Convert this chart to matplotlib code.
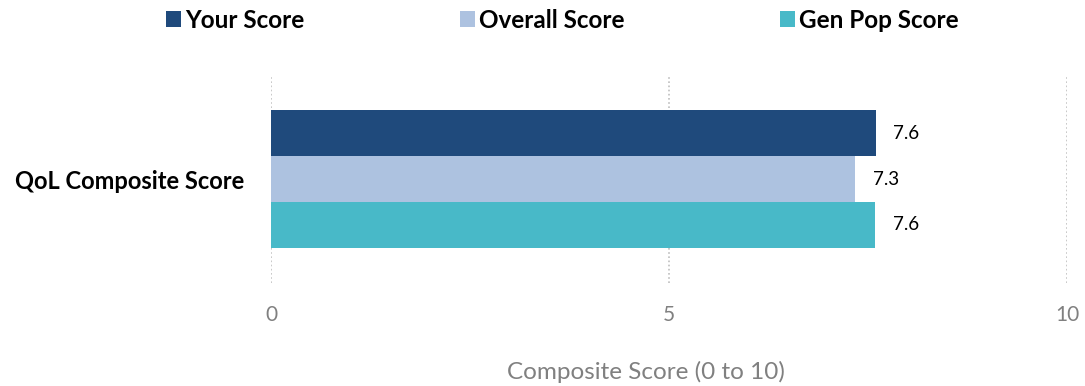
import matplotlib
matplotlib.use("Agg")
import matplotlib.pyplot as plt
from matplotlib.patches import Patch

plt.rcParams["font.family"] = ["Lato", "DejaVu Sans"]

# ---------------------------------------------------------------------------
# Data
# ---------------------------------------------------------------------------
category = "QoL Composite Score"
series_names = ["Your Score", "Overall Score", "Gen Pop Score"]
series_values = [7.6, 7.34, 7.59]
series_colors = ["#1F4A7C", "#ADC2E0", "#48B9C8"]
x_ticks = [0, 5, 10]

# ---------------------------------------------------------------------------
# Plot
# ---------------------------------------------------------------------------
fig = plt.figure(figsize=(10.85, 3.86), dpi=100)
ax = fig.add_axes([0.2498, 0.2668, 0.7336, 0.5389])

# one bar per series, stacked top to bottom around the category position
offsets = [1, 0, -1]
for name, val, col, off in zip(series_names, series_values, series_colors, offsets):
    ax.barh(off, val, height=1.0, color=col, label=name, zorder=3)
    ax.text(val + 0.22, off, f"{val:.1f}", va="center", ha="left",
            fontsize=13.5, color="#000000", zorder=4)

ax.set_xlim(0, 10)
ax.set_ylim(-2.27, 2.27)
ax.set_xticks(x_ticks)
ax.set_xticklabels([str(t) for t in x_ticks], fontsize=15, color="#808080")
ax.set_yticks([0])
ax.set_yticklabels([category], fontsize=17, fontweight="bold", color="#000000")
ax.tick_params(axis="both", length=0)
ax.tick_params(axis="x", pad=16)
ax.tick_params(axis="y", pad=19)

ax.xaxis.grid(True, color="#BFBFBF", linestyle=(0, (1, 1.5)), linewidth=1.2, zorder=0)
ax.yaxis.grid(False)
for spine in ax.spines.values():
    spine.set_visible(False)

ax.set_xlabel("Composite Score (0 to 10)", fontsize=17.5, color="#808080")
ax.xaxis.set_label_coords(0.471, -0.375)

handles = [Patch(facecolor=c, label=n) for n, c in zip(series_names, series_colors)]
leg = fig.legend(
    handles=handles,
    loc="center",
    bbox_to_anchor=(0.5184, 0.948),
    ncol=3,
    frameon=False,
    prop={"weight": "bold", "size": 17.5},
    handlelength=0.62,
    handleheight=0.62,
    handletextpad=0.16,
    columnspacing=6.4,
    borderaxespad=0,
)

fig.savefig("out.png", dpi=100)
